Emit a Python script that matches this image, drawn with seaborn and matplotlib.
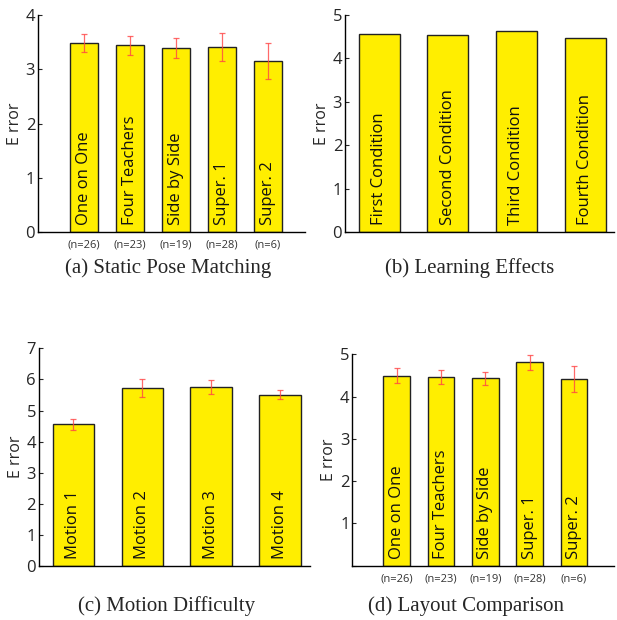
import matplotlib
matplotlib.use('Agg')
from matplotlib import pyplot as plt
import seaborn as sns
import pandas as pd

# (a) static pose matching
layouts = ['One on One', 'Four Teachers', 'Side by Side', 'Super. 1', 'Super. 2']
layout_n = ['(n=26)', '(n=23)', '(n=19)', '(n=28)', '(n=6)']
static_err = [3.48, 3.44, 3.39, 3.41, 3.15]
static_sem = [0.17, 0.17, 0.19, 0.25, 0.33]

# (b) learning effects
conditions = ['First Condition', 'Second Condition', 'Third Condition', 'Fourth Condition']
learning_err = [4.57, 4.54, 4.64, 4.46]

# (c) motion difficulty
motions = ['Motion 1', 'Motion 2', 'Motion 3', 'Motion 4']
motion_err = [4.56, 5.72, 5.76, 5.51]
motion_sem = [0.18, 0.30, 0.22, 0.15]

# (d) layout comparison
layout_cmp_err = [4.49, 4.47, 4.43, 4.81, 4.42]
layout_cmp_sem = [0.18, 0.17, 0.16, 0.18, 0.31]

YELLOW = '#FFEE00'
sns.set_style('white')
plt.rcParams['font.family'] = ['Open Sans', 'DejaVu Sans']

fig = plt.figure(figsize=(6.17, 6.20), dpi=100)


def panel(rect, names, vals, sem, ylim, yticks, xlim, nlabels=None, hide_zero=False):
    ax = fig.add_axes(rect)
    df = pd.DataFrame({'cond': names, 'err': vals})
    sns.barplot(data=df, x='cond', y='err', color=YELLOW, saturation=1,
                width=0.6, edgecolor='#222222', linewidth=1.0, errorbar=None, ax=ax)
    if sem is not None:
        ax.errorbar(range(len(vals)), vals, yerr=sem, fmt='none', ecolor='#FF4545',
                    elinewidth=0.9, capsize=2.5, capthick=0.9, alpha=0.8, zorder=5)
    for i, name in enumerate(names):
        ax.annotate(name, (i, 0), xytext=(0, 5), textcoords='offset points',
                    rotation=90, ha='center', va='bottom', fontsize=12, color='#111111')
    ax.set_xlim(*xlim)
    ax.set_ylim(*ylim)
    ax.set_yticks(yticks)
    labels = [str(t) for t in yticks]
    if hide_zero:
        labels[0] = ''
    ax.set_yticklabels(labels, fontsize=12)
    ax.set_xticks([])
    ax.set_xlabel('')
    ax.set_ylabel('E rror', fontsize=11.5, labelpad=2)
    for s in ['top', 'right']:
        ax.spines[s].set_visible(False)
    for s in ['left', 'bottom']:
        ax.spines[s].set_color('black')
        ax.spines[s].set_linewidth(1.0)
    ax.tick_params(axis='y', direction='in', length=3, width=0.8, left=True, pad=2)
    if nlabels is not None:
        for i, lab in enumerate(nlabels):
            ax.text(i, -0.035, lab, transform=ax.get_xaxis_transform(), ha='center',
                    va='top', fontsize=8, color='#333333')
    return ax


panel([0.0616, 0.6258, 0.4324, 0.35], layouts, static_err, static_sem,
      (0, 4), [0, 1, 2, 3, 4], (-1, 4.8), layout_n)
panel([0.559, 0.6258, 0.436, 0.35], conditions, learning_err, None,
      (0, 5), [0, 1, 2, 3, 4, 5], (-0.5, 3.42))
panel([0.063, 0.0871, 0.439, 0.3511], motions, motion_err, motion_sem,
      (0, 7), [0, 1, 2, 3, 4, 5, 6, 7], (-0.5, 3.43))
panel([0.571, 0.0877, 0.424, 0.3408], layouts, layout_cmp_err, layout_cmp_sem,
      (0, 5), [0, 1, 2, 3, 4, 5], (-1, 4.9), layout_n, hide_zero=True)

cap_font = dict(fontsize=15, family='Liberation Serif', ha='center', va='center')
fig.text(168 / 617, 1 - 268 / 620, '(a) Static Pose Matching', **cap_font)
fig.text(470 / 617, 1 - 268 / 620, '(b) Learning Effects', **cap_font)
fig.text(167 / 617, 1 - 606 / 620, '(c) Motion Difficulty', **cap_font)
fig.text(466 / 617, 1 - 606 / 620, '(d) Layout Comparison', **cap_font)

fig.savefig('out.png', dpi=100)
